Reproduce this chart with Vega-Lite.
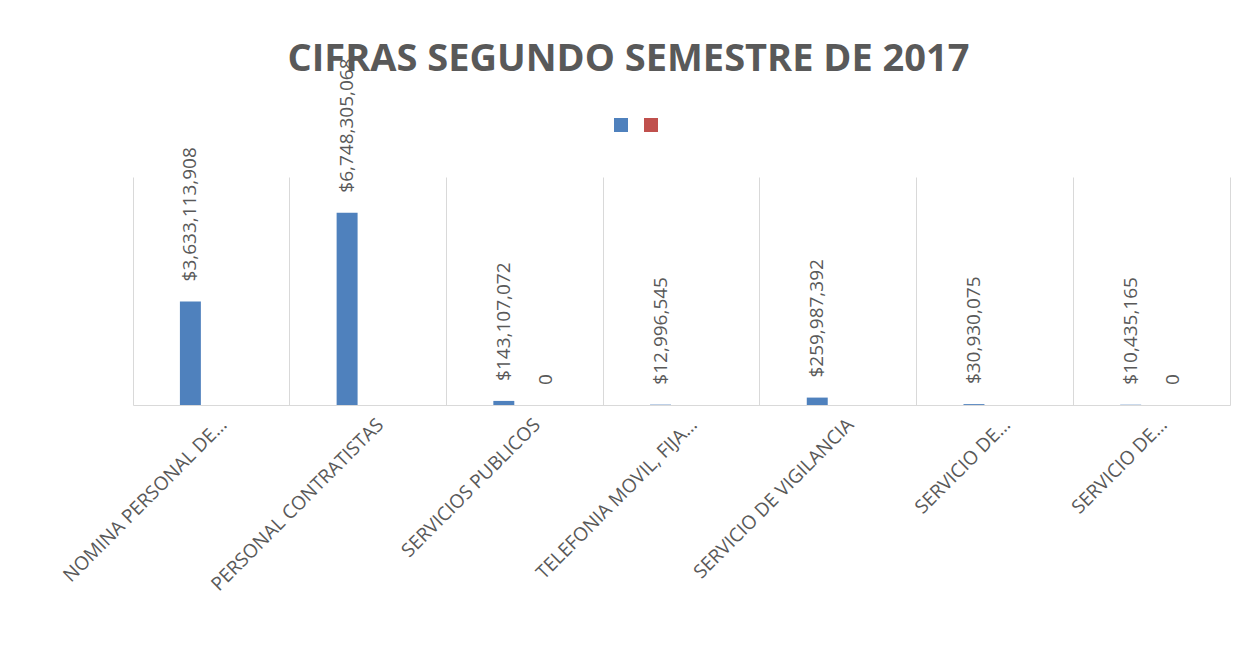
{
  "$schema": "https://vega.github.io/schema/vega-lite/v6.json",
  "width": 1097,
  "height": 228,
  "autosize": {"type": "none"},
  "padding": {"left": 133, "top": 177, "right": 19, "bottom": 253},
  "background": "white",
  "title": {
    "text": "CIFRAS SEGUNDO SEMESTRE DE 2017",
    "font": "Open Sans",
    "fontSize": 38,
    "fontWeight": "bold",
    "color": "#595959",
    "anchor": "middle",
    "frame": "group",
    "dx": -53,
    "offset": -51,
    "baseline": "alphabetic"
  },
  "data": {
    "values": [
      {"categoria": "NOMINA PERSONAL DE…", "serie": "Serie1", "valor": 3633113908},
      {"categoria": "PERSONAL CONTRATISTAS", "serie": "Serie1", "valor": 6748305068},
      {"categoria": "SERVICIOS PUBLICOS", "serie": "Serie1", "valor": 143107072},
      {"categoria": "TELEFONIA MOVIL, FIJA…", "serie": "Serie1", "valor": 12996545},
      {"categoria": "SERVICIO DE VIGILANCIA", "serie": "Serie1", "valor": 259987392},
      {"categoria": "SERVICIO DE…", "serie": "Serie1", "valor": 30930075},
      {"categoria": "SERVICIO DE…\u200b", "serie": "Serie1", "valor": 10435165},
      {"categoria": "SERVICIOS PUBLICOS", "serie": "Serie3", "valor": 0},
      {"categoria": "SERVICIO DE…\u200b", "serie": "Serie3", "valor": 0}
    ]
  },
  "encoding": {
    "x": {
      "field": "categoria",
      "type": "nominal",
      "sort": null,
      "scale": {"paddingInner": 0, "paddingOuter": 0},
      "axis": {
        "title": null,
        "bandPosition": 0,
        "grid": true,
        "gridColor": "#d9d9d9",
        "gridWidth": 1,
        "ticks": false,
        "domain": true,
        "domainColor": "#d9d9d9",
        "domainWidth": 1,
        "labelAngle": -45,
        "labelAlign": "right",
        "labelBaseline": "top",
        "labelOffset": 6,
        "labelPadding": 10,
        "labelFont": "Open Sans",
        "labelFontSize": 19,
        "labelColor": "#595959",
        "labelLimit": 1000,
        "labelOverlap": false
      }
    },
    "xOffset": {
      "field": "serie",
      "type": "nominal",
      "scale": {"domain": ["p1", "p2", "Serie1", "Serie2", "Serie3", "p3", "p4"], "paddingInner": 0, "paddingOuter": 0.238}
    },
    "y": {
      "field": "valor",
      "type": "quantitative",
      "scale": {"domain": [0, 8000000000], "nice": false},
      "axis": {
        "orient": "right",
        "title": null,
        "labels": false,
        "ticks": false,
        "grid": false,
        "domain": true,
        "domainColor": "#d9d9d9"
      }
    }
  },
  "layer": [
    {
      "mark": {"type": "bar"},
      "encoding": {
        "color": {
          "field": "serie",
          "type": "nominal",
          "scale": {"domain": ["Serie1", "Serie3"], "range": ["#4f81bd", "#c0504d"]},
          "legend": {
            "orient": "none",
            "legendX": 481,
            "legendY": -59,
            "direction": "horizontal",
            "title": null,
            "labelExpr": "''",
            "symbolType": "square",
            "symbolSize": 196,
            "symbolStrokeWidth": 0,
            "labelOffset": 0,
            "columnPadding": 16,
            "padding": 0
          }
        }
      }
    },
    {
      "mark": {
        "type": "text",
        "angle": 270,
        "align": "left",
        "baseline": "middle",
        "dx": 20,
        "font": "Open Sans",
        "fontSize": 19,
        "color": "#595959"
      },
      "encoding": {
        "text": {
          "condition": {"test": "datum.valor === 0", "value": "0"},
          "field": "valor",
          "type": "quantitative",
          "format": "$,"
        }
      }
    }
  ],
  "config": {"view": {"stroke": null}}
}
